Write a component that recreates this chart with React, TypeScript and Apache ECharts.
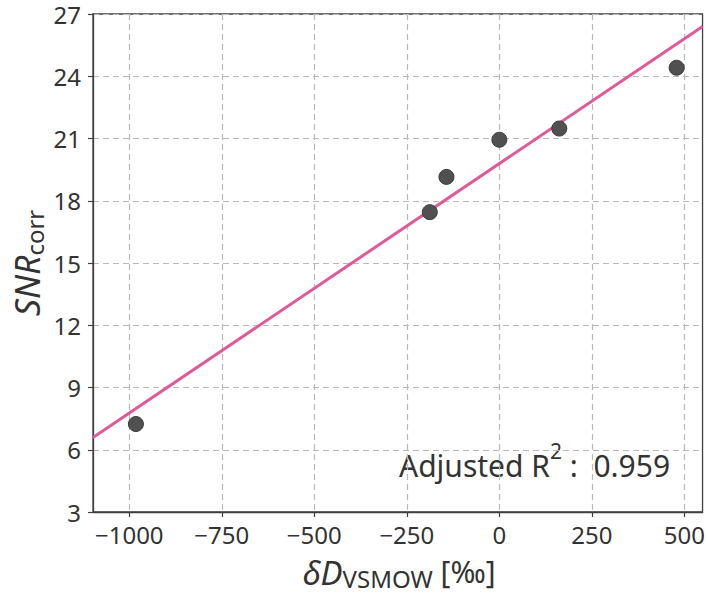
import React, { useEffect, useRef } from "react";
import * as echarts from "echarts";

// Measured samples: deuterium content vs. corrected signal-to-noise ratio
const deltaD = [-982, -188, -143, 0, 162, 479];
const snrCorr = [7.24, 17.45, 19.15, 20.94, 21.48, 24.41];

const xTicks = [-1000, -750, -500, -250, 0, 250, 500];
const xRange = [-1098, 549];
const yRange = [3, 27];
const yStep = 3;
const adjustedR2 = "0.959";

const FONT = "'Noto Sans', sans-serif";
const TEXT = "#333333";
const AXIS = "#404040";

// Ordinary least-squares fit of SNR against δD
function fitLine(xs: number[], ys: number[]) {
  const n = xs.length;
  const mx = xs.reduce((a, b) => a + b, 0) / n;
  const my = ys.reduce((a, b) => a + b, 0) / n;
  let sxy = 0;
  let sxx = 0;
  for (let i = 0; i < n; i++) {
    sxy += (xs[i] - mx) * (ys[i] - my);
    sxx += (xs[i] - mx) * (xs[i] - mx);
  }
  const slope = sxy / sxx;
  return { slope, intercept: my - slope * mx };
}

const fmt = (v: number) => (v < 0 ? "\u2212" + Math.abs(v) : String(v));

const gridDash = { color: "#b9b9b9", width: 1.2, type: [6, 4] as number[] };

export default function App() {
  const ref = useRef<HTMLDivElement>(null);

  useEffect(() => {
    if (!ref.current) return;
    const chart = echarts.init(ref.current, undefined, { renderer: "svg" });
    const { slope, intercept } = fitLine(deltaD, snrCorr);
    const fitData = xRange.map((x) => [x, intercept + slope * x]);

    chart.setOption({
      animation: false,
      backgroundColor: "#ffffff",
      textStyle: { fontFamily: FONT, color: TEXT },
      grid: {
        left: 93,
        top: 14,
        width: 610,
        height: 498,
        show: true,
        borderColor: AXIS,
        borderWidth: 1.3,
        backgroundColor: "transparent",
      },
      xAxis: {
        type: "value",
        min: xRange[0],
        max: xRange[1],
        axisLine: { show: true, onZero: false, lineStyle: { color: AXIS, width: 1.3 } },
        axisTick: {
          show: true,
          length: 5,
          customValues: xTicks,
          lineStyle: { color: AXIS, width: 1.2 },
        },
        axisLabel: {
          customValues: xTicks,
          formatter: fmt,
          fontSize: 24,
          lineHeight: 26,
          fontFamily: FONT,
          color: TEXT,
          margin: 9,
        },
        splitLine: { show: true, lineStyle: gridDash },
      },
      yAxis: {
        type: "value",
        min: yRange[0],
        max: yRange[1],
        interval: yStep,
        axisLine: { show: true, onZero: false, lineStyle: { color: AXIS, width: 1.3 } },
        axisTick: {
          show: true,
          length: 5,
          lineStyle: { color: AXIS, width: 1.2 },
        },
        axisLabel: {
          fontSize: 24,
          lineHeight: 24,
          fontFamily: FONT,
          color: TEXT,
          margin: 12,
        },
        splitLine: { show: true, lineStyle: gridDash },
      },
      graphic: [
        {
          type: "text",
          left: 399,
          top: 440,
          style: {
            text: "{a|Adjusted R}{s|2}{a| :  " + adjustedR2 + "}",
            rich: {
              a: { fontSize: 30, fontFamily: FONT, fill: TEXT, lineHeight: 40, verticalAlign: "bottom" },
              s: { fontSize: 21, fontFamily: FONT, fill: TEXT, lineHeight: 34, verticalAlign: "top" },
            },
          },
        },
        {
          type: "text",
          x: 399,
          y: 573,
          style: {
            text: "{m|\u03b4D}{s|VSMOW}{n| [\u2030]}",
            align: "center",
            verticalAlign: "middle",
            rich: {
              m: { fontSize: 33, fontStyle: "italic", fontFamily: FONT, fill: TEXT, lineHeight: 34, verticalAlign: "top" },
              s: { fontSize: 24, fontFamily: FONT, fill: TEXT, lineHeight: 26, verticalAlign: "bottom" },
              n: { fontSize: 30, fontFamily: FONT, fill: TEXT, lineHeight: 34, verticalAlign: "top" },
            },
          },
        },
        {
          type: "text",
          x: 28,
          y: 263,
          rotation: Math.PI / 2,
          style: {
            text: "{m|SNR}{s|corr}",
            align: "center",
            verticalAlign: "middle",
            rich: {
              m: { fontSize: 34, fontStyle: "italic", fontFamily: FONT, fill: TEXT, lineHeight: 36, verticalAlign: "top" },
              s: { fontSize: 24, fontFamily: FONT, fill: TEXT, lineHeight: 26, verticalAlign: "bottom" },
            },
          },
        },
      ],
      series: [
        {
          type: "line",
          data: fitData,
          showSymbol: false,
          symbol: "none",
          lineStyle: { color: "#e05a9b", width: 3 },
          z: 2,
        },
        {
          type: "scatter",
          data: deltaD.map((x, i) => [x, snrCorr[i]]),
          symbolSize: 15,
          itemStyle: { color: "#505050", borderColor: "#3a3a3a", borderWidth: 1, opacity: 1 },
          z: 3,
        },
      ],
    });

    return () => chart.dispose();
  }, []);

  return (
    <div
      ref={ref}
      style={{ position: "fixed", left: 0, top: 0, width: 708, height: 594, background: "#fff" }}
    />
  );
}
